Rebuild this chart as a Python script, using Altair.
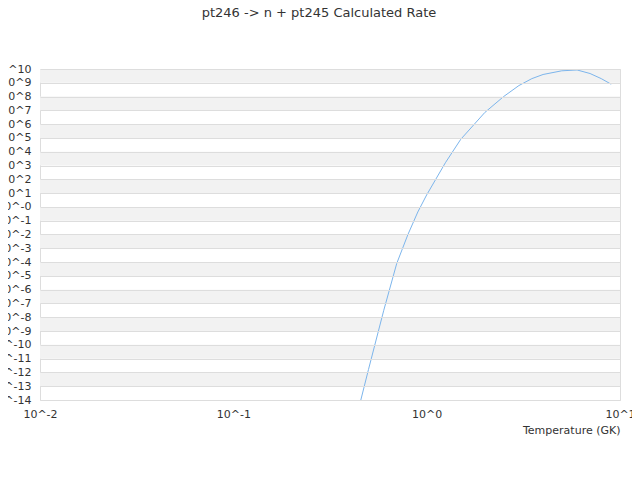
import altair as alt
import pandas as pd

# Temperature grid (GK) and calculated rate
temperature = [0.4, 0.5, 0.6, 0.7, 0.8, 0.9, 1.0, 1.25, 1.5, 2.0, 2.5,
               3.0, 3.5, 4.0, 5.0, 6.0, 7.0, 8.0, 9.0]
rate = [6.3e-18, 1.6e-12, 3.2e-8, 7.9e-5, 1.0e-2, 4.3e-1, 7.4, 1.6e3,
        7.9e4, 7.1e6, 1.0e8, 6.3e8, 2.0e9, 4.0e9, 7.4e9, 8.5e9, 4.7e9,
        2.0e9, 7.9e8]

x_ticks = [0.01, 0.1, 1.0, 10.0]
y_exponents = list(range(-14, 11))
y_ticks = [10.0 ** e for e in y_exponents]

FONT = "DejaVu Sans"
LINE_BLUE = "#7cb5ec"
BAND_GREY = "#f2f2f2"
GRID_GREY = "#dddddd"

curve = pd.DataFrame({"T": temperature, "rate": rate})

# alternating plot bands, one decade tall, starting from the top decade
bands = pd.DataFrame({
    "lo": [10.0 ** e for e in y_exponents[1::2]],
    "hi": [10.0 ** (e + 1) for e in y_exponents[1::2]],
})

x_scale = alt.Scale(type="log", domain=[0.01, 10], nice=False)
y_scale = alt.Scale(type="log", domain=[1e-14, 1e10], nice=False)

band_layer = (
    alt.Chart(bands)
    .mark_rect(color=BAND_GREY)
    .encode(
        x=alt.value(0),
        x2=alt.value(580),
        y=alt.Y("lo:Q", scale=y_scale),
        y2="hi:Q",
    )
)

line_layer = (
    alt.Chart(curve)
    .mark_line(color=LINE_BLUE, strokeWidth=1, clip=True)
    .encode(
        x=alt.X(
            "T:Q",
            scale=x_scale,
            axis=alt.Axis(
                values=x_ticks,
                labelExpr="'10^' + round(log(datum.value) / LN10)",
                title="Temperature (GK)",
                titleAnchor="end",
                titleFontWeight="normal",
                titleFontSize=11,
                titleColor="#333333",
                titlePadding=5,
                grid=False,
                ticks=False,
                domain=False,
                labelPadding=8,
                labelFlush=False,
            ),
        ),
        y=alt.Y(
            "rate:Q",
            scale=y_scale,
            axis=alt.Axis(
                values=y_ticks,
                labelExpr=(
                    "datum.value == 1 ? '10^-0' : "
                    "'10^' + round(log(datum.value) / LN10)"
                ),
                title=None,
                grid=True,
                gridColor=GRID_GREY,
                ticks=False,
                domain=False,
                labelPadding=9,
                labelOverlap=False,
                labelFlush=False,
                zindex=1,
            ),
        ),
    )
)

chart = (
    alt.layer(band_layer, line_layer)
    .properties(
        width=580,
        height=331,
        autosize=alt.AutoSizeParams(type="none"),
        padding={"left": 32, "top": 61, "right": 12, "bottom": 60},
        title=alt.TitleParams(
            "pt246 -> n + pt245 Calculated Rate",
            font=FONT,
            fontSize=13,
            fontWeight="normal",
            color="#333333",
            anchor="middle",
            baseline="alphabetic",
            offset=33,
            dx=-11,
        ),
    )
    .configure_view(stroke=GRID_GREY, strokeWidth=1)
    .configure_axis(labelFont=FONT, titleFont=FONT, labelFontSize=11,
                    labelColor="#333333")
)

chart.save("out.html", embed_options={"renderer": "svg", "actions": False})
